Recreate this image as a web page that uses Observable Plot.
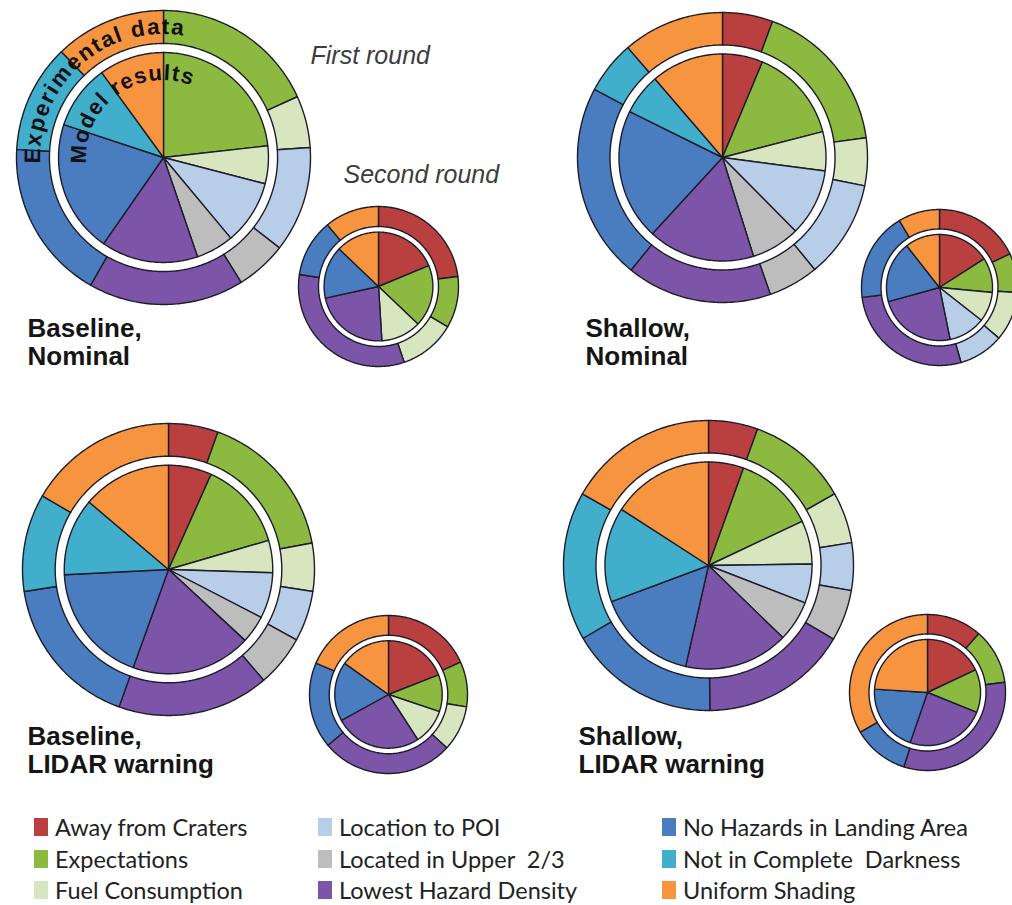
<!DOCTYPE html>
<html>
<head>
<meta charset="utf-8">
<script src="https://cdn.jsdelivr.net/npm/d3@7"></script>
<script src="https://cdn.jsdelivr.net/npm/@observablehq/plot@0.6"></script>
<style>
  html, body { margin: 0; padding: 0; background: #fff; }
  #wrap { position: relative; width: 1012px; height: 905px; overflow: hidden; }
  #wrap svg { position: absolute; left: 0; top: 0; }
  .lg-item { position: absolute; display: flex; align-items: center; white-space: pre;
             font-family: Lato, "Open Sans", sans-serif; font-size: 23.5px; color: #222; }
  .lg-sw { width: 14px; height: 18px; margin-right: 7px; flex: none; }
</style>
</head>
<body>
<div id="wrap"></div>
<script>
// ---------------- DATA ----------------
const categories = [
  "Away from Craters", "Expectations", "Fuel Consumption",
  "Location to POI", "Located in Upper  2/3", "Lowest Hazard Density",
  "No Hazards in Landing Area", "Not in Complete  Darkness", "Uniform Shading"
];
const colors = ["#b9403f", "#8cb940", "#d8e6bf", "#b8cde8", "#bdbdbd", "#7d55a8", "#4a7cc0", "#41aecb", "#f7943f"];

// shares (%) per category, in category order; outer ring = experimental data, inner pie = model results
const baselineNominalR1Exp   = [0, 18.2, 5.7, 11.6, 5.6, 17.1, 17.6, 11.9, 12.2];
const baselineNominalR1Model = [0, 23.2, 5.8, 9.9, 5.8, 14.9, 20.4, 9.9, 10.0];
const baselineNominalR2Exp   = [23.0, 10.4, 11.4, 0, 0, 32.6, 11.6, 0, 11.0];
const baselineNominalR2Model = [18.8, 18.4, 11.9, 0, 0, 22.6, 15.6, 0, 12.9];

const shallowNominalR1Exp    = [5.6, 17.2, 5.3, 10.9, 5.6, 16.2, 21.9, 5.9, 11.3];
const shallowNominalR1Model  = [6.3, 14.7, 6.1, 10.5, 7.6, 16.7, 20.5, 6.4, 11.3];
const shallowNominalR2Exp    = [17.9, 8.1, 10.2, 9.3, 0, 27.4, 18.4, 0, 8.6];
const shallowNominalR2Model  = [15.9, 10.6, 9.1, 11.2, 0, 23.9, 18.7, 0, 10.6];

const baselineLidarR1Exp     = [5.5, 16.6, 5.3, 5.6, 5.7, 16.8, 17.1, 10.8, 16.6];
const baselineLidarR1Model   = [6.7, 13.8, 5.0, 7.1, 4.3, 18.6, 18.7, 12.0, 13.8];
const baselineLidarR2Exp     = [18.3, 9.2, 9.3, 0, 0, 27.1, 17.6, 0, 18.5];
const baselineLidarR2Model   = [19.1, 11.1, 10.7, 0, 0, 26.2, 17.9, 0, 15.2];

const shallowLidarR1Exp      = [5.5, 11.3, 5.7, 5.3, 5.7, 16.4, 16.8, 16.6, 16.8];
const shallowLidarR1Model    = [5.5, 12.5, 6.8, 6.1, 6.4, 16.3, 15.8, 14.8, 15.9];
const shallowLidarR2Exp      = [11.4, 11.5, 0, 0, 0, 32.0, 11.6, 0, 33.5];
const shallowLidarR2Model    = [18.0, 13.1, 0, 0, 0, 24.2, 20.7, 0, 24.0];

const panelNames = ["Baseline,\nNominal", "Shallow,\nNominal", "Baseline,\nLIDAR warning", "Shallow,\nLIDAR warning"];
const roundLabels = ["First round", "Second round"];
const ringLabels = ["Experimental data", "Model results"];

// ---------------- LAYOUT ----------------
const pies = [
  { cx: 163, cy: 157, r: 147, size: "large", exp: baselineNominalR1Exp, model: baselineNominalR1Model },
  { cx: 722, cy: 157, r: 145, size: "large", exp: shallowNominalR1Exp,  model: shallowNominalR1Model },
  { cx: 168, cy: 569, r: 146, size: "large", exp: baselineLidarR1Exp,   model: baselineLidarR1Model },
  { cx: 708, cy: 565, r: 145, size: "large", exp: shallowLidarR1Exp,    model: shallowLidarR1Model },
  { cx: 378, cy: 286, r: 80,  size: "small", exp: baselineNominalR2Exp, model: baselineNominalR2Model },
  { cx: 939, cy: 287, r: 78,  size: "small", exp: shallowNominalR2Exp,  model: shallowNominalR2Model },
  { cx: 388, cy: 694, r: 79,  size: "small", exp: baselineLidarR2Exp,   model: baselineLidarR2Model },
  { cx: 927, cy: 692, r: 78,  size: "small", exp: shallowLidarR2Exp,    model: shallowLidarR2Model }
];
const ratios = { large: { ringIn: 0.776, pie: 0.714 }, small: { ringIn: 0.75, pie: 0.68 } };
const titlePos = [ { x: 27, y: 316 }, { x: 585, y: 316 }, { x: 27, y: 724 }, { x: 578, y: 724 } ];
const roundPos = [ { x: 310, y: 63 }, { x: 343, y: 182 } ];

// ---------------- GEOMETRY from data ----------------
function arcPts(cx, cy, r, a0, a1) {
  const n = Math.max(2, Math.ceil(Math.abs(a1 - a0) / (Math.PI / 180)));
  const pts = [];
  for (let i = 0; i <= n; i++) {
    const a = a0 + (a1 - a0) * i / n;
    pts.push([cx + r * Math.sin(a), cy - r * Math.cos(a)]);
  }
  return pts;
}
function slices(p, pi) {
  const rows = [];
  const rr = ratios[p.size];
  [["exp", p.exp], ["model", p.model]].forEach(([kind, vals]) => {
    const total = d3.sum(vals);
    let acc = 0;
    vals.forEach((v, i) => {
      if (v <= 0) return;
      const a0 = acc / total * 2 * Math.PI;
      acc += v;
      const a1 = acc / total * 2 * Math.PI;
      let pts;
      if (kind === "exp") {
        pts = arcPts(p.cx, p.cy, p.r, a0, a1).concat(arcPts(p.cx, p.cy, p.r * rr.ringIn, a1, a0));
      } else {
        pts = [[p.cx, p.cy]].concat(arcPts(p.cx, p.cy, p.r * rr.pie, a0, a1));
      }
      const id = `${pi}-${kind}-${i}`;
      pts.forEach(([x, y]) => rows.push({ id, category: categories[i], x, y }));
    });
  });
  return rows;
}
const largeRows = pies.filter(p => p.size === "large").flatMap((p, i) => slices(p, i));
const smallRows = pies.filter(p => p.size === "small").flatMap((p, i) => slices(p, i + 4));

const titleData = panelNames.map((t, i) => ({ text: t, ...titlePos[i] }));
const roundData = roundLabels.map((t, i) => ({ text: t, ...roundPos[i] }));

const sliceStyle = { x: "x", y: "y", z: "id", fill: "category", stroke: "#1d1d2b", strokeWidth: 1.4, curve: "linear-closed" };

const plot = Plot.plot({
  width: 1012,
  height: 800,
  margin: 0,
  style: { background: "transparent" },
  x: { type: "identity", axis: null },
  y: { type: "identity", axis: null },
  color: { type: "ordinal", domain: categories, range: colors },
  marks: [
    Plot.line(largeRows, sliceStyle),
    Plot.line(smallRows, sliceStyle),
    Plot.text(titleData, { x: "x", y: "y", text: "text", textAnchor: "start", lineAnchor: "top", lineHeight: 1.1,
      fontSize: 26, fontWeight: "bold", fontFamily: "Liberation Sans, Arial, sans-serif", fill: "#151515" }),
    Plot.text(roundData, { x: "x", y: "y", text: "text", textAnchor: "start", lineAnchor: "bottom",
      fontSize: 25, fontStyle: "italic", fontFamily: "Liberation Sans, Arial, sans-serif", fill: "#3d3d3d" })
  ]
});
document.getElementById("wrap").appendChild(plot);

// curved annotations on the first chart
(function () {
  const p = pies[0];
  const svg = d3.select(plot);
  const defs = svg.append("defs");
  const specs = [
    { text: ringLabels[0], r: 123, a0: 267, a1: 20, size: 22.5, spacing: 1.6 },
    { text: ringLabels[1], r: 77,  a0: 265, a1: 40, size: 22, spacing: 1.2 }
  ];
  specs.forEach((s, i) => {
    const toXY = deg => [p.cx + s.r * Math.sin(deg * Math.PI / 180), p.cy - s.r * Math.cos(deg * Math.PI / 180)];
    const [x0, y0] = toXY(s.a0), [x1, y1] = toXY(s.a1);
    defs.append("path").attr("id", "curve" + i)
      .attr("d", `M${x0},${y0} A${s.r},${s.r} 0 0 1 ${x1},${y1}`);
    svg.append("text")
      .attr("text-anchor", "start")
      .attr("font-family", "Liberation Sans, Arial, sans-serif")
      .attr("font-size", s.size).attr("font-weight", "bold")
      .attr("letter-spacing", s.spacing).attr("fill", "#111")
      .append("textPath").attr("href", "#curve" + i).attr("startOffset", 0)
      .attr("text-anchor", "start")
      .text(s.text);
  });
})();

// legend (3 columns, filled column by column)
const legendCols = [34, 318, 662];
const legendRows = [827, 859, 890];
const wrap = document.getElementById("wrap");
categories.forEach((c, i) => {
  const col = Math.floor(i / 3), row = i % 3;
  const el = document.createElement("div");
  el.className = "lg-item";
  el.style.left = legendCols[col] + "px";
  el.style.top = (legendRows[row] - 14) + "px";
  el.style.height = "28px";
  el.innerHTML = `<span class="lg-sw" style="background:${colors[i]}"></span><span></span>`;
  el.lastChild.textContent = c;
  wrap.appendChild(el);
});
</script>
</body>
</html>
